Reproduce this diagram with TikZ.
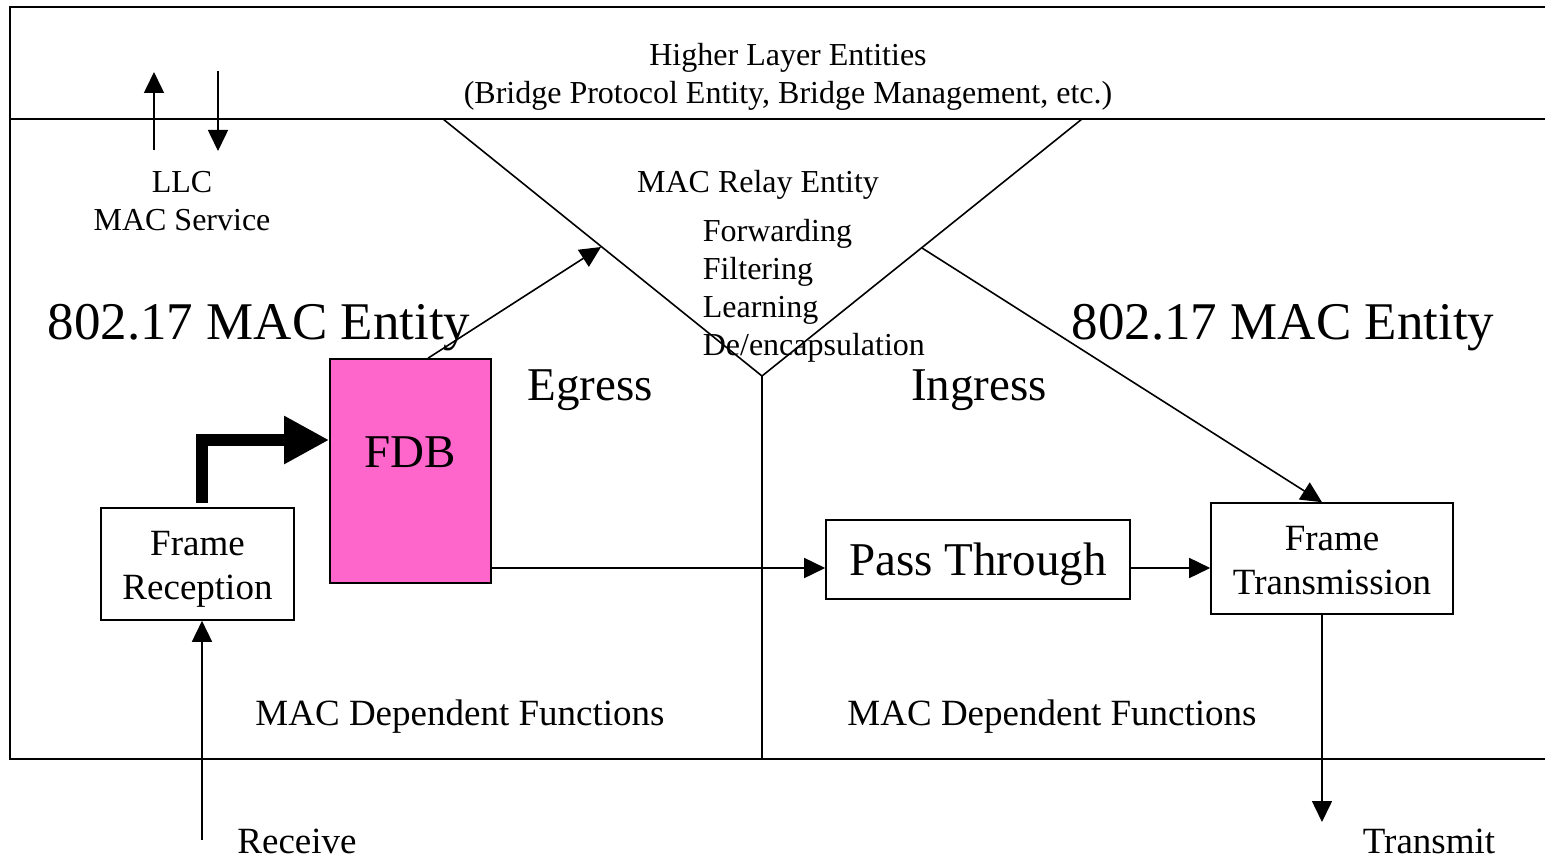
\documentclass[tikz,border=0pt]{standalone}
\usepackage{fontspec}
\setmainfont{Liberation Serif}
\usetikzlibrary{arrows.meta}
\definecolor{fdbpink}{HTML}{FF66CC}
\begin{document}
\begin{tikzpicture}[x=1pt,y=-1pt,
  every path/.style={line width=1.6pt},
  arr/.style={-{Triangle[length=21pt,width=20pt]}},
  boldarr/.style={line width=12pt,-{Triangle[length=45pt,width=45pt]}},
  blockbox/.style={draw,rectangle,inner sep=0pt},
  lbl/.style={inner sep=0pt,align=center},
  smalltxt/.style={font=\fontsize{32}{38}\selectfont},
  midtxt/.style={font=\fontsize{37}{44}\selectfont},
  bigtxt/.style={font=\fontsize{47}{54}\selectfont},
  hugetxt/.style={font=\fontsize{53}{60}\selectfont}]
\useasboundingbox (0,0) rectangle (1545,856);

% frame of the bridge
\draw (1545,7) -- (10,7) -- (10,759) -- (1545,759);
\draw (10,119) -- (1545,119);

% relay V
\coordinate (vl) at (443,119);
\coordinate (vr) at (1082,119);
\coordinate (vb) at (762,376);
\coordinate (vd) at (762,759);
\draw (vl) -- (vb) -- (vr);
\draw (vb) -- (vd);

% LLC service arrows
\coordinate (upb) at (154,150);
\coordinate (upt) at (154,72);
\coordinate (dnt) at (218,71);
\coordinate (dnb) at (218,151);
\draw[arr] (upb) -- (upt);
\draw[arr] (dnt) -- (dnb);

% texts
\node[lbl,smalltxt] (hle) at (788,77) {Higher Layer Entities\\(Bridge Protocol Entity, Bridge Management, etc.)};
\node[lbl,smalltxt] (llc) at (182,201) {LLC\\MAC Service};
\node[lbl,smalltxt] (mre) at (758,185) {MAC Relay Entity};
\node[lbl,smalltxt,align=left,anchor=west] (fns) at (702,291) {Forwarding\\Filtering\\Learning\\De/encapsulation};
\node[lbl,hugetxt] (mel) at (259,328) {802.17 MAC Entity};
\node[lbl,hugetxt] (mer) at (1283,328) {802.17 MAC Entity};
\node[lbl,bigtxt] (egr) at (590,390) {Egress};
\node[lbl,bigtxt] (ingr) at (979,390) {Ingress};
\node[lbl,midtxt] (mdl) at (460,717) {MAC Dependent Functions};
\node[lbl,midtxt] (mdr) at (1052,717) {MAC Dependent Functions};
\node[lbl,midtxt] (rcv) at (297,841) {Receive};
\node[lbl,midtxt] (xmt) at (1429,841) {Transmit};

% blocks
\node[blockbox,minimum width=193pt,minimum height=112pt,
  label={[lbl,midtxt,yshift=-5pt]center:Frame\\Reception}] (fr) at (197.5,564) {};
\node[blockbox,fill=fdbpink,minimum width=161pt,minimum height=224pt,
  label={[lbl,bigtxt,yshift=19pt]center:FDB}] (fdb) at (410.5,471) {};
\node[blockbox,minimum width=304pt,minimum height=79pt,
  label={[lbl,bigtxt,yshift=-5pt]center:Pass Through}] (pt) at (978,559.5) {};
\node[blockbox,minimum width=242pt,minimum height=111pt,
  label={[lbl,midtxt,yshift=-2pt]center:Frame\\Transmission}] (ft) at (1332,558.5) {};

% connectors
\coordinate (row) at (0,568);
\coordinate (rxin) at (202,840);
\coordinate (lrn) at (202,503);
\coordinate (eg) at (601,247);
\coordinate (ing) at (922,248);
\coordinate (txout) at (1322,822);

\draw[arr] (rxin) -- (rxin |- fr.south);
\draw[boldarr] (lrn) |- ([yshift=31pt]fdb.west);
\draw[arr] ([xshift=17.5pt]fdb.north) -- (eg);
\draw[arr] (fdb.east |- row) -- (pt.west |- row);
\draw[arr] (pt.east |- row) -- (ft.west |- row);
\draw[arr] (ing) -- ([xshift=-10pt]ft.north);
\draw[arr] ([xshift=-10pt]ft.south) -- (txout);
\end{tikzpicture}
\end{document}
